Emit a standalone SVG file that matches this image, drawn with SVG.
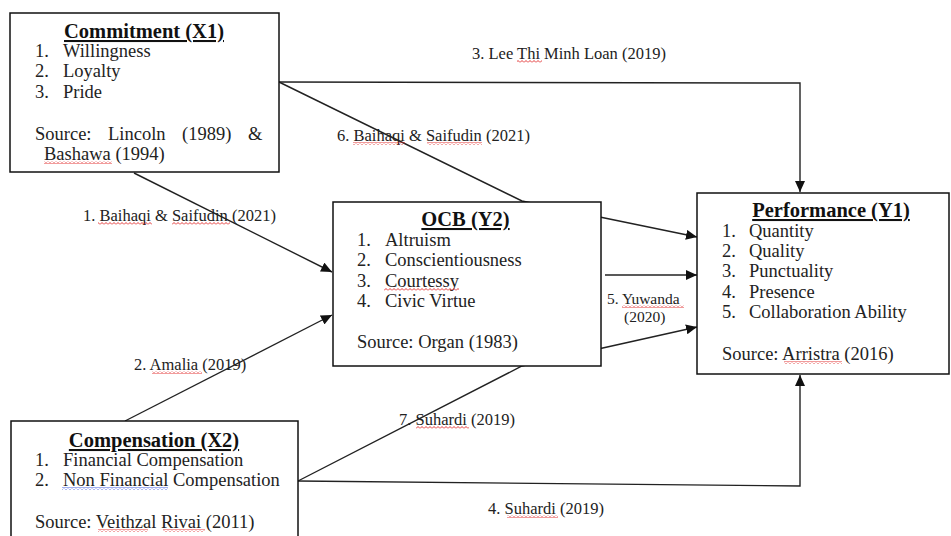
<svg xmlns="http://www.w3.org/2000/svg" width="951" height="536" viewBox="0 0 951 536">
<style>
.box{fill:#fff;stroke:#111;stroke-width:1.5}
.t{font-family:"Liberation Serif","Times New Roman",serif;font-size:18.5px;fill:#222}
.h{font-family:"Liberation Serif","Times New Roman",serif;font-size:20.5px;font-weight:bold;fill:#111;text-anchor:middle;text-decoration:underline}
.l{font-family:"Liberation Serif","Times New Roman",serif;font-size:16.5px;fill:#222}
.c{fill:none;stroke:#222;stroke-width:1.4}
.sr{fill:url(#wr)}
.sb{fill:url(#wb)}
</style>
<defs>
<marker id="ah" markerWidth="12" markerHeight="10" refX="11" refY="5" orient="auto" markerUnits="userSpaceOnUse">
<path d="M0,0 L11,5 L0,10 Z" fill="#111"/>
</marker>
<pattern id="wr" width="4" height="3" patternUnits="userSpaceOnUse">
<path d="M0,2.5 L2,0.5 L4,2.5" fill="none" stroke="#e02020" stroke-width="0.9"/>
</pattern>
<pattern id="wb" width="4" height="3" patternUnits="userSpaceOnUse">
<path d="M0,2.5 L2,0.5 L4,2.5" fill="none" stroke="#3050e0" stroke-width="0.9"/>
</pattern>
</defs>

<g id="connectors">
<path class="c" d="M279,82 L800,83 L800,192" marker-end="url(#ah)"/>
<path class="c" d="M279,82 L522,201 L697,237" marker-end="url(#ah)"/>
<path class="c" d="M134,173 L332,272" marker-end="url(#ah)"/>
<path class="c" d="M125,421 L332,315" marker-end="url(#ah)"/>
<path class="c" d="M605,275 L697,275" marker-end="url(#ah)"/>
<path class="c" d="M298,481 L522,366 L697,327" marker-end="url(#ah)"/>
<path class="c" d="M298,481 L800,486 L800,375" marker-end="url(#ah)"/>
</g>

<g id="labels">
<text class="l" x="472" y="59">3. Lee Thi Minh Loan (2019)</text>
<rect class="sr" x="517" y="60" width="25" height="3"/>
<text class="l" x="337" y="141">6. Baihaqi &amp; Saifudin (2021)</text>
<rect class="sr" x="353" y="142" width="52" height="3"/>
<rect class="sr" x="427" y="142" width="55" height="3"/>
<text class="l" x="83" y="221">1. Baihaqi &amp; Saifudin (2021)</text>
<rect class="sr" x="98" y="222" width="54" height="3"/>
<rect class="sr" x="172" y="222" width="58" height="3"/>
<text class="l" x="134" y="370">2. Amalia (2019)</text>
<rect class="sr" x="152" y="371" width="50" height="3"/>
<text class="l" style="font-size:15.5px"><tspan x="607" y="304">5. Yuwanda</tspan><tspan x="624" y="322">(2020)</tspan></text>
<rect class="sr" x="622" y="305" width="62" height="3"/>
<text class="l" x="399" y="425">7. Suhardi (2019)</text>
<rect class="sr" x="416" y="426" width="53" height="3"/>
<text class="l" x="488" y="514">4. Suhardi (2019)</text>
<rect class="sr" x="507" y="515" width="51" height="3"/>
</g>

<g id="commitment">
<rect class="box" x="10" y="13" width="269" height="159"/>
<text class="h" x="144" y="38">Commitment (X1)</text>
<text class="t" x="35" y="56.5">1.</text><text class="t" x="63" y="56.5">Willingness</text>
<text class="t" x="35" y="77">2.</text><text class="t" x="63" y="77">Loyalty</text>
<text class="t" x="35" y="97.5">3.</text><text class="t" x="63" y="97.5">Pride</text>
<text class="t" y="139.5"><tspan x="35">Source:</tspan><tspan x="108">Lincoln</tspan><tspan x="182">(1989)</tspan><tspan x="248">&amp;</tspan></text>
<text class="t" x="44" y="159.5">Bashawa (1994)</text>
<rect class="sr" x="44" y="161" width="68" height="3"/>
</g>

<g id="ocb">
<rect class="box" x="333" y="202" width="268" height="164"/>
<text class="h" x="465.5" y="226">OCB (Y2)</text>
<text class="t" x="357" y="245.5">1.</text><text class="t" x="385" y="245.5">Altruism</text>
<text class="t" x="357" y="266">2.</text><text class="t" x="385" y="266">Conscientiousness</text>
<text class="t" x="357" y="286.5">3.</text><text class="t" x="385" y="286.5">Courtessy</text>
<rect class="sr" x="384" y="288" width="75" height="3"/>
<text class="t" x="357" y="307">4.</text><text class="t" x="385" y="307">Civic Virtue</text>
<text class="t" x="357" y="347.5">Source: Organ (1983)</text>
</g>

<g id="performance">
<rect class="box" x="697" y="193" width="252" height="181"/>
<text class="h" x="831" y="217">Performance (Y1)</text>
<text class="t" x="722" y="236.5">1.</text><text class="t" x="749" y="236.5">Quantity</text>
<text class="t" x="722" y="257">2.</text><text class="t" x="749" y="257">Quality</text>
<text class="t" x="722" y="277">3.</text><text class="t" x="749" y="277">Punctuality</text>
<text class="t" x="722" y="297.5">4.</text><text class="t" x="749" y="297.5">Presence</text>
<text class="t" x="722" y="318">5.</text><text class="t" x="749" y="318">Collaboration Ability</text>
<text class="t" x="722" y="359.5">Source: Arristra (2016)</text>
<rect class="sr" x="784" y="361" width="58" height="3"/>
</g>

<g id="compensation">
<rect class="box" x="11" y="421" width="287" height="130"/>
<text class="h" x="154" y="447">Compensation (X2)</text>
<text class="t" x="35" y="465.5">1.</text><text class="t" x="63" y="465.5">Financial Compensation</text>
<text class="t" x="35" y="486">2.</text><text class="t" x="63" y="486">Non Financial Compensation</text>
<rect class="sb" x="62" y="487" width="106" height="3"/>
<text class="t" x="35" y="528">Source: Veithzal Rivai (2011)</text>
<rect class="sr" x="98" y="529" width="50" height="3"/>
<rect class="sr" x="163" y="529" width="42" height="3"/>
</g>
</svg>
